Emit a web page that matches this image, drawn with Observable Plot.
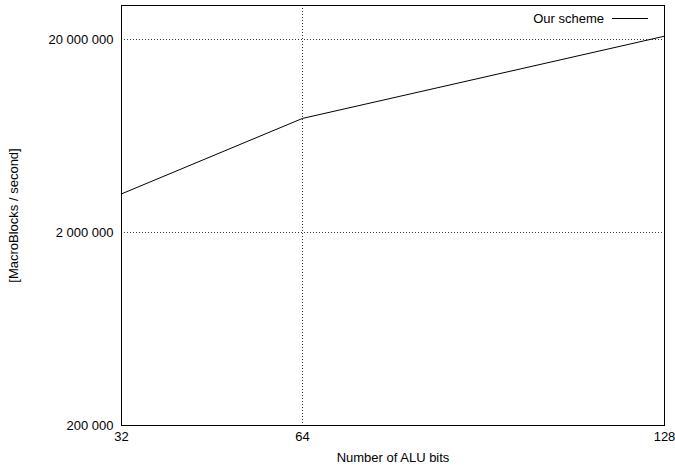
<!DOCTYPE html>
<html>
<head>
<meta charset="utf-8">
<script src="https://cdn.jsdelivr.net/npm/d3@7"></script>
<script src="https://cdn.jsdelivr.net/npm/@observablehq/plot@0.6"></script>
<style>
  html, body { margin: 0; padding: 0; background: #fff; }
  #wrap { position: relative; width: 675px; height: 470px; font-family: "Liberation Sans", Arial, sans-serif; }
  #legend { position: absolute; top: 11px; right: 27px; font-size: 13px; display: flex; align-items: center; }
  #legend .swatch { display: inline-block; width: 36px; border-top: 1px solid #000; margin-left: 8px; }
</style>
</head>
<body>
<div id="wrap"><div id="legend"><span id="legendLabel"></span><span class="swatch"></span></div></div>
<script>
const aluBits = [32, 64, 128];
const macroBlocksPerSecond = [3170000, 7800000, 20800000];
const seriesName = "Our scheme";
const xTicks = [32, 64, 128];
const yTicks = [200000, 2000000, 20000000];
const xLabel = "Number of ALU bits";
const yLabel = "[MacroBlocks / second]";

const data = aluBits.map((b, i) => ({bits: b, rate: macroBlocksPerSecond[i]}));
const fmt = d3.formatLocale({thousands: " ", grouping: [3], decimal: ".", currency: ["", ""]}).format(",");

document.getElementById("legendLabel").textContent = seriesName;

const chart = Plot.plot({
  width: 675,
  height: 470,
  marginLeft: 121,
  marginRight: 11,
  marginTop: 5,
  marginBottom: 45,
  style: {fontFamily: "'Liberation Sans', Arial, sans-serif", fontSize: "13px", color: "#000", background: "#fff"},
  x: {type: "linear", domain: [32, 128], ticks: xTicks, tickFormat: d => String(d), tickSize: 0, tickPadding: 6,
      label: xLabel, labelAnchor: "center", labelArrow: "none", labelOffset: 36},
  y: {type: "log", domain: [200000, 30000000], ticks: yTicks, tickFormat: fmt, tickSize: 0, tickPadding: 8,
      label: yLabel, labelAnchor: "center", labelArrow: "none", labelOffset: 113},
  marks: [
    Plot.gridX(xTicks.filter(t => t !== 32 && t !== 128), {stroke: "#000", strokeOpacity: 0.8, strokeDasharray: "1,2"}),
    Plot.gridY(yTicks.filter(t => t !== 200000), {stroke: "#000", strokeOpacity: 0.8, strokeDasharray: "1,2"}),
    Plot.frame({stroke: "#000", strokeWidth: 1}),
    Plot.line(data, {x: "bits", y: "rate", stroke: "#000", strokeWidth: 1})
  ]
});
document.getElementById("wrap").prepend(chart);
</script>
</body>
</html>
